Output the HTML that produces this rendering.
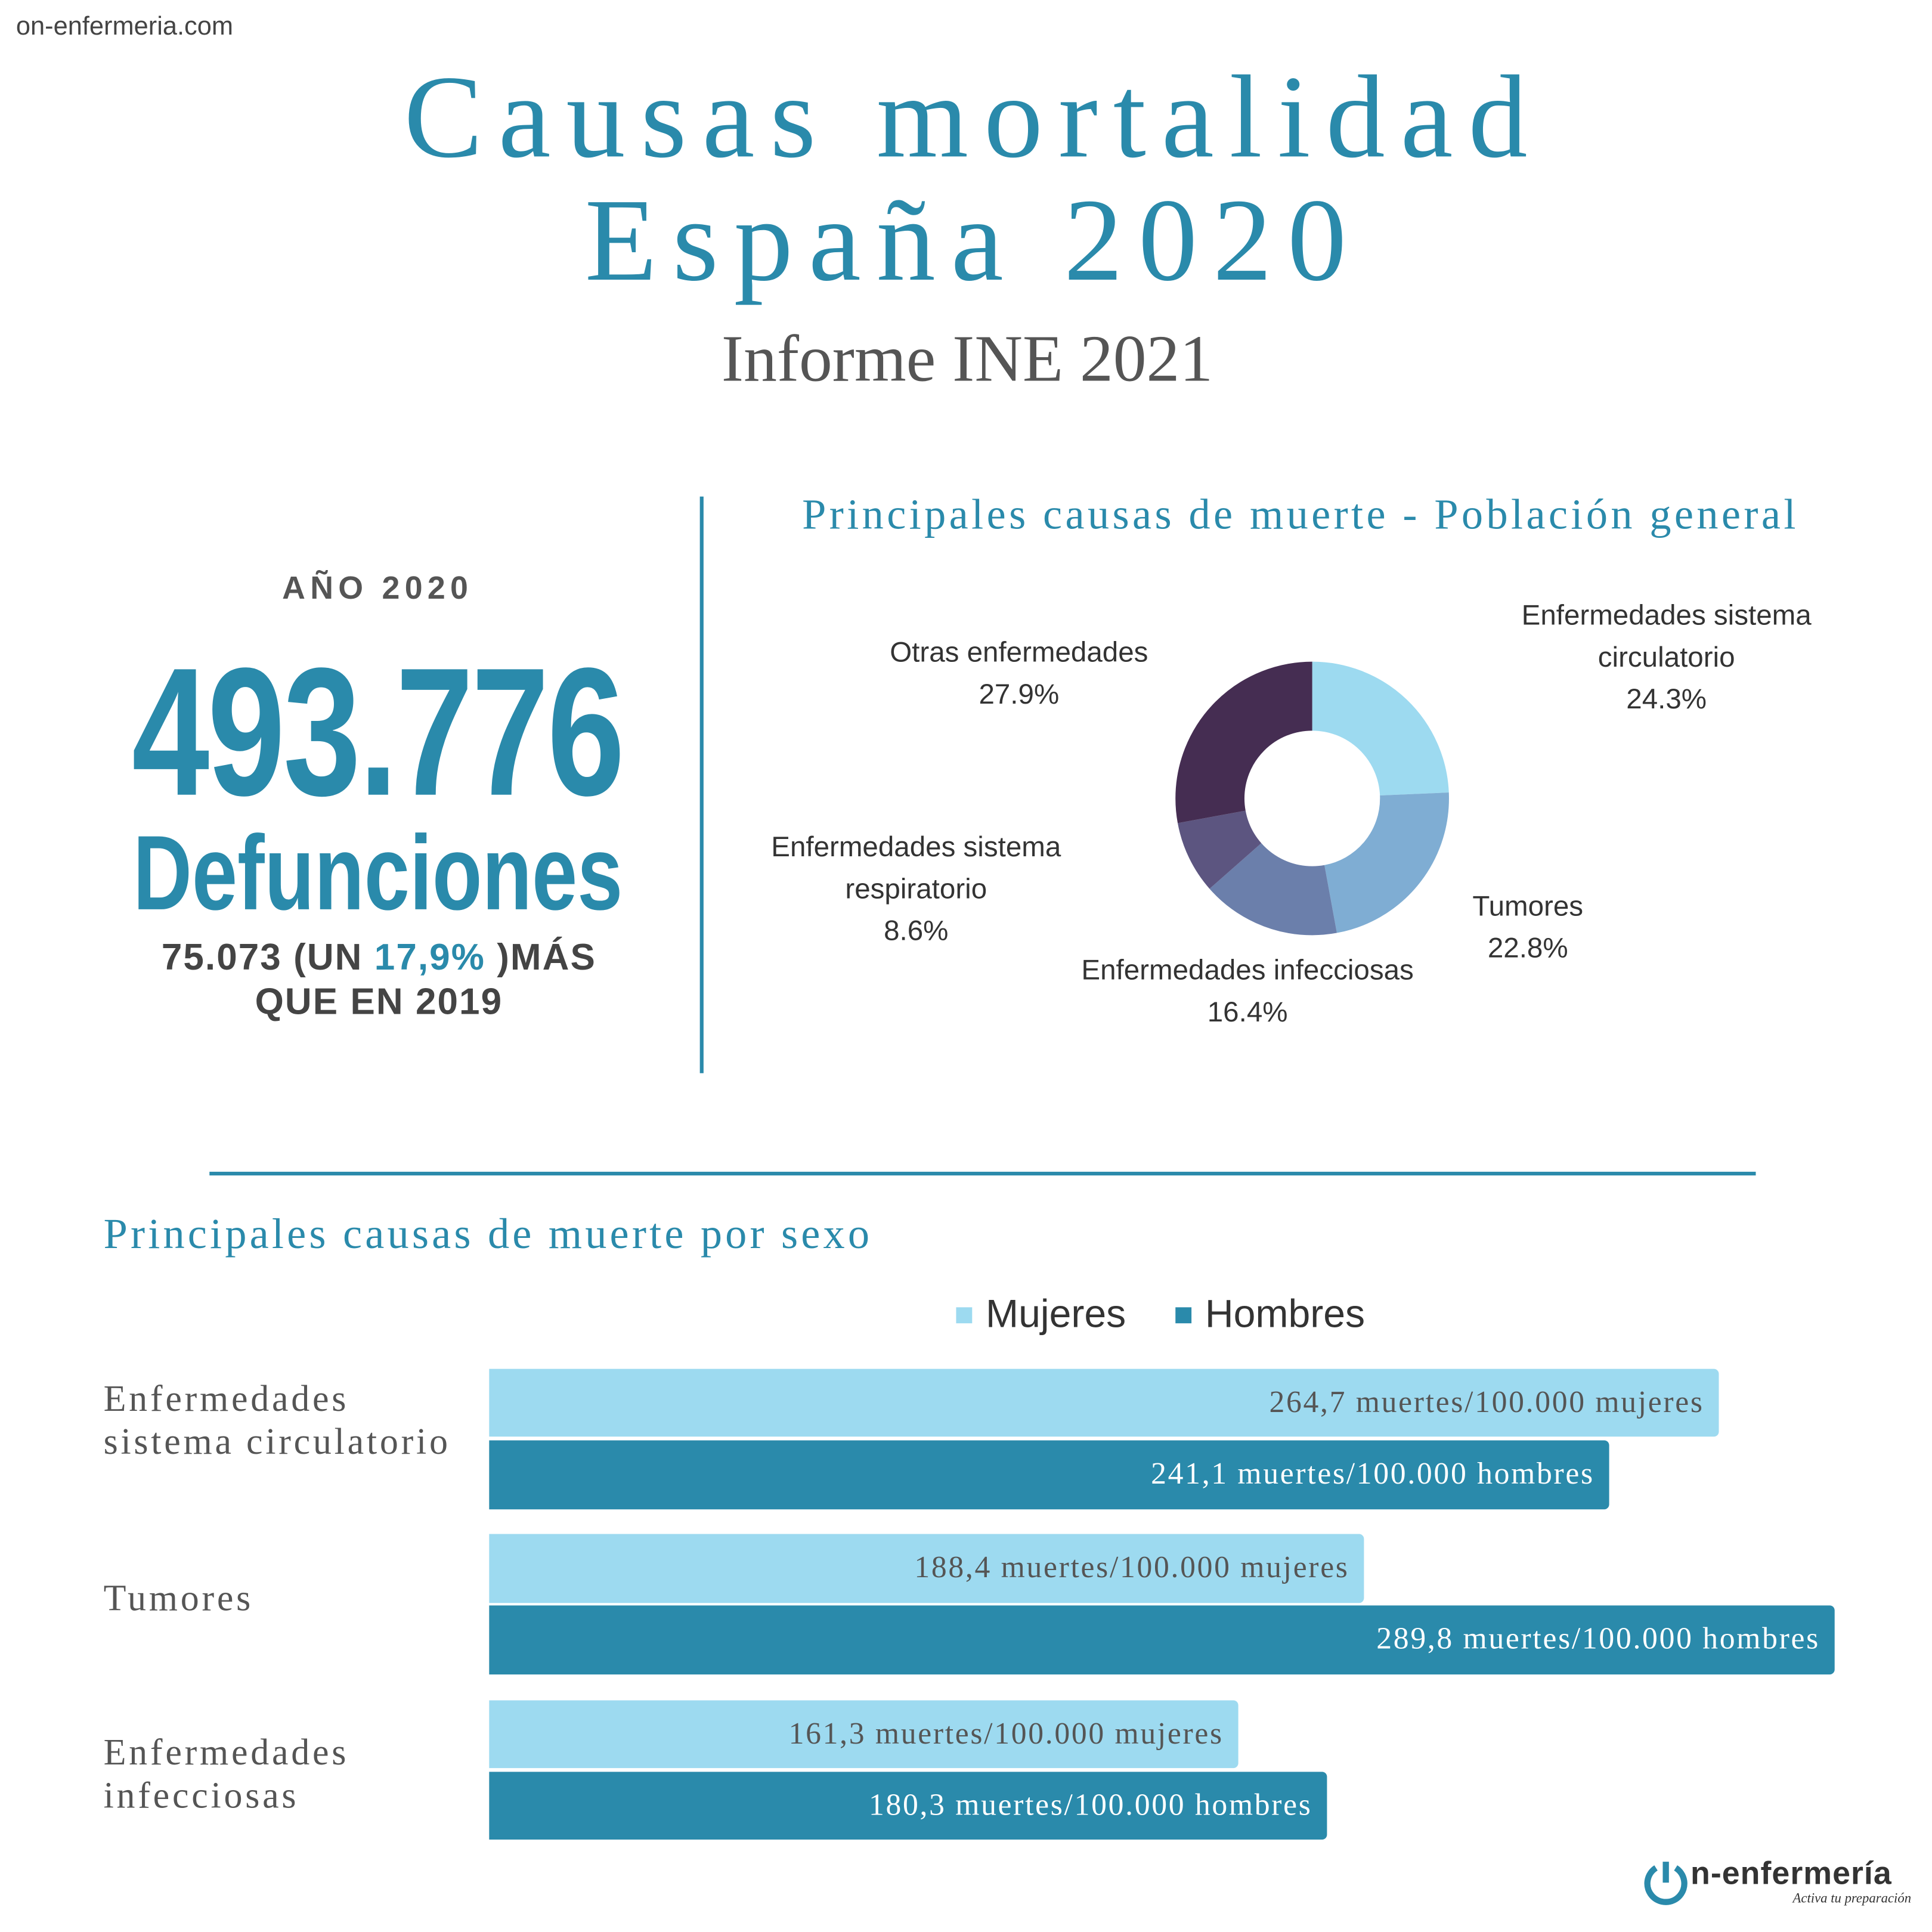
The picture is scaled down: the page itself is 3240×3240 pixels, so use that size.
<!DOCTYPE html>
<html><head><meta charset="utf-8"><style>
html,body{margin:0;padding:0;background:#fff;}
#wrap{width:1568px;height:1568px;position:relative;transform:scale(2.0663);transform-origin:0 0;overflow:hidden;font-family:"Liberation Sans",sans-serif;}
.a{position:absolute;white-space:nowrap;}
.serif{font-family:"Liberation Serif",serif;}
.teal{color:#2a8aab;}
.lbl{font-size:23px;color:#333;text-align:center;line-height:34px;}
.bar{position:absolute;left:397px;border-radius:0 4px 4px 0;}
.bt{position:absolute;right:12px;top:50%;transform:translateY(-50%);font-family:"Liberation Serif",serif;font-size:25px;letter-spacing:1.3px;}
.cat{font-family:"Liberation Serif",serif;font-size:30px;color:#555;line-height:35px;letter-spacing:2.3px;}
</style></head><body><div id="wrap">
<div class="a" style="left:13px;top:10px;font-size:21px;color:#444;">on-enfermeria.com</div>
<div class="a serif teal" style="left:0;width:1580px;text-align:center;top:45px;font-size:96px;letter-spacing:12.5px;line-height:100px;">Causas mortalidad</div>
<div class="a serif teal" style="left:0;width:1580px;text-align:center;top:145px;font-size:96px;letter-spacing:12.5px;line-height:100px;">España 2020</div>
<div class="a serif" style="left:0;width:1570px;text-align:center;top:260px;font-size:54px;color:#555;">Informe INE 2021</div>

<div class="a" style="left:229px;top:462px;font-size:26px;font-weight:bold;color:#555;letter-spacing:4px;">AÑO 2020</div>
<div class="a teal" style="left:107px;top:520px;width:530px;font-size:148px;font-weight:bold;transform:scaleX(0.765);transform-origin:0 0;line-height:150px;letter-spacing:-2px;">493.776</div>
<div class="a teal" style="left:108px;top:664px;width:530px;font-size:86px;font-weight:bold;transform:scaleX(0.77);transform-origin:0 0;line-height:90px;">Defunciones</div>
<div class="a" style="left:60px;width:495px;text-align:center;top:760px;font-size:30px;font-weight:bold;color:#444;line-height:36px;letter-spacing:1px;">75.073 (UN <span class="teal">17,9%</span> )MÁS<br>QUE EN 2019</div>

<div class="a" style="left:568px;top:403px;width:3px;height:468px;background:#2a8aab;"></div>
<div class="a serif teal" style="left:651px;top:398px;font-size:35px;letter-spacing:2.6px;">Principales causas de muerte - Población general</div>

<svg class="a" style="left:950px;top:533px;" width="230" height="230" viewBox="0 0 230 230">
<g transform="rotate(-90 115 115)" fill="none" stroke-width="56">
<circle cx="115" cy="115" r="83" stroke="#9ddaf0" stroke-dasharray="126.7 521.5" stroke-dashoffset="0"/>
<circle cx="115" cy="115" r="83" stroke="#7fadd3" stroke-dasharray="118.9 521.5" stroke-dashoffset="-126.7"/>
<circle cx="115" cy="115" r="83" stroke="#6b7fab" stroke-dasharray="85.5 521.5" stroke-dashoffset="-245.6"/>
<circle cx="115" cy="115" r="83" stroke="#5c5580" stroke-dasharray="44.8 521.5" stroke-dashoffset="-331.1"/>
<circle cx="115" cy="115" r="83" stroke="#452d52" stroke-dasharray="145.5 521.5" stroke-dashoffset="-375.9"/>
</g></svg>
<div class="a lbl" style="left:1200px;width:305px;top:482px;">Enfermedades sistema<br>circulatorio<br>24.3%</div>
<div class="a lbl" style="left:677px;width:300px;top:512px;">Otras enfermedades<br>27.9%</div>
<div class="a lbl" style="left:600px;width:287px;top:670px;">Enfermedades sistema<br>respiratorio<br>8.6%</div>
<div class="a lbl" style="left:1170px;width:140px;top:718px;">Tumores<br>22.8%</div>
<div class="a lbl" style="left:850px;width:325px;top:770px;">Enfermedades infecciosas<br>16.4%</div>

<div class="a" style="left:170px;top:951px;width:1255px;height:3px;background:#2a8aab;"></div>
<div class="a serif teal" style="left:84px;top:982px;font-size:35px;letter-spacing:2.5px;">Principales causas de muerte por sexo</div>

<div class="a" style="left:776px;top:1061px;width:13px;height:13px;background:#9ddaf0;"></div>
<div class="a" style="left:800px;top:1048px;font-size:32px;color:#333;">Mujeres</div>
<div class="a" style="left:954px;top:1061px;width:13px;height:13px;background:#2a8aab;"></div>
<div class="a" style="left:978px;top:1048px;font-size:32px;color:#333;">Hombres</div>

<div class="a cat" style="left:84px;top:1118px;">Enfermedades<br>sistema circulatorio</div>
<div class="a cat" style="left:84px;top:1280px;">Tumores</div>
<div class="a cat" style="left:84px;top:1405px;">Enfermedades<br>infecciosas</div>

<div class="bar" style="top:1111px;height:55px;width:998px;background:#9ddaf0;"><span class="bt" style="color:#555;">264,7 muertes/100.000 mujeres</span></div>
<div class="bar" style="top:1169px;height:56px;width:909px;background:#2a8aab;"><span class="bt" style="color:#fff;">241,1 muertes/100.000 hombres</span></div>
<div class="bar" style="top:1245px;height:56px;width:710px;background:#9ddaf0;"><span class="bt" style="color:#555;">188,4 muertes/100.000 mujeres</span></div>
<div class="bar" style="top:1303px;height:56px;width:1092px;background:#2a8aab;"><span class="bt" style="color:#fff;">289,8 muertes/100.000 hombres</span></div>
<div class="bar" style="top:1380px;height:55px;width:608px;background:#9ddaf0;"><span class="bt" style="color:#555;">161,3 muertes/100.000 mujeres</span></div>
<div class="bar" style="top:1438px;height:55px;width:680px;background:#2a8aab;"><span class="bt" style="color:#fff;">180,3 muertes/100.000 hombres</span></div>

<svg class="a" style="left:1332px;top:1508px;" width="40" height="40" viewBox="0 0 40 40"><path d="M12 8 A15 15 0 1 0 28 8" fill="none" stroke="#2a8aab" stroke-width="5"/><line x1="20" y1="3" x2="20" y2="20" stroke="#2a8aab" stroke-width="5"/></svg>
<div class="a" style="left:1372px;top:1505px;font-size:26px;font-weight:bold;color:#333;letter-spacing:0.5px;">n-enfermería</div>
<div class="a serif" style="left:1455px;top:1535px;font-size:11px;font-style:italic;color:#333;">Activa tu preparación</div>
</div></body></html>
